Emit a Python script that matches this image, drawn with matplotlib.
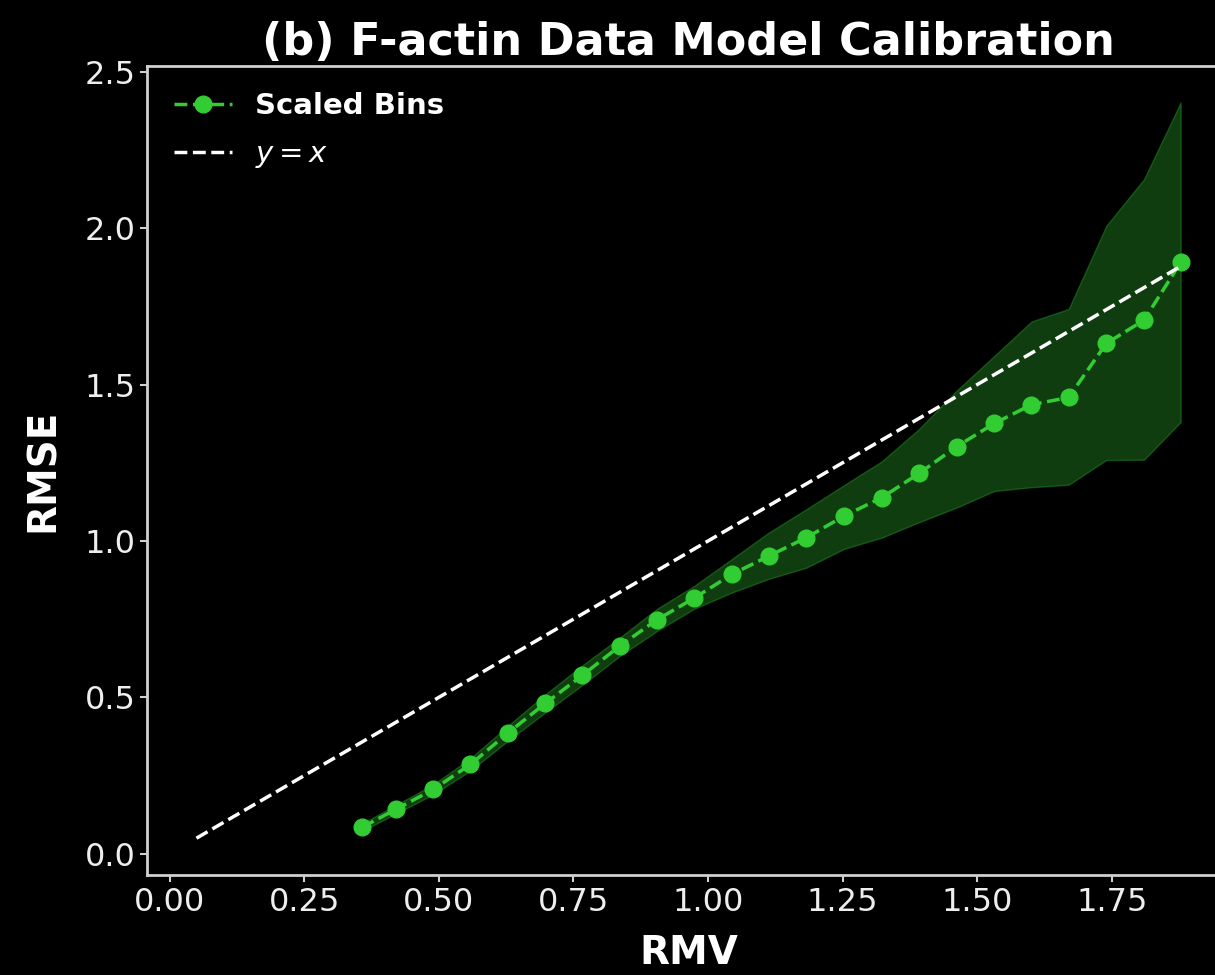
import matplotlib
matplotlib.use("Agg")
import matplotlib.pyplot as plt

# binned calibration data
rmv = [0.358, 0.420, 0.490, 0.559, 0.629, 0.698, 0.767, 0.836, 0.905, 0.974,
       1.044, 1.113, 1.183, 1.253, 1.323, 1.392, 1.462, 1.532, 1.601, 1.670,
       1.740, 1.810, 1.878]
rmse = [0.085, 0.142, 0.206, 0.286, 0.387, 0.481, 0.571, 0.664, 0.748, 0.817,
        0.893, 0.952, 1.011, 1.080, 1.139, 1.216, 1.302, 1.376, 1.436, 1.459,
        1.632, 1.706, 1.891]
rmse_hi = [0.097, 0.156, 0.222, 0.306, 0.410, 0.510, 0.603, 0.691, 0.783, 0.856,
           0.942, 1.027, 1.102, 1.179, 1.255, 1.358, 1.481, 1.592, 1.702, 1.742,
           2.008, 2.157, 2.402]
rmse_lo = [0.073, 0.128, 0.190, 0.266, 0.362, 0.452, 0.540, 0.632, 0.712, 0.783,
           0.835, 0.879, 0.915, 0.975, 1.011, 1.060, 1.107, 1.160, 1.172, 1.180,
           1.259, 1.260, 1.380]
diag = [0.05, rmv[-1]]

GREEN = "#32CD32"
SPINE = "#d0d0d0"

plt.style.use("dark_background")
fig = plt.figure(figsize=(12.15, 9.75), dpi=100)
fig.patch.set_facecolor("black")
# axes runs past the right edge, as in the cropped original
ax = fig.add_axes([0.1212, 0.1026, 0.891, 0.830])
ax.set_facecolor("black")

ax.fill_between(rmv, rmse_lo, rmse_hi, color=GREEN, alpha=0.3)
ax.plot(rmv, rmse, "--o", color=GREEN, lw=2.5, markersize=12, label="Scaled Bins")
ax.plot(diag, diag, "--", color="white", lw=2.5, label="$y = x$")

ax.set_title("(b) F-actin Data Model Calibration", fontsize=32, fontweight="bold", pad=8)
ax.set_xlabel("RMV", fontsize=28, fontweight="bold", labelpad=12)
ax.set_ylabel("RMSE", fontsize=28, fontweight="bold", labelpad=16)
ax.set_xticks([0, 0.25, 0.5, 0.75, 1.0, 1.25, 1.5, 1.75])
ax.set_yticks([0, 0.5, 1.0, 1.5, 2.0, 2.5])
ax.tick_params(labelsize=23, colors=SPINE, labelcolor="#eeeeee", length=5, width=1.5)
for s in ax.spines.values():
    s.set_color(SPINE)
    s.set_linewidth(2)

ax.legend(loc="upper left", frameon=False, prop={"size": 21, "weight": "bold"},
          labelspacing=0.7)

fig.savefig("out.png", dpi=100, facecolor="black")
